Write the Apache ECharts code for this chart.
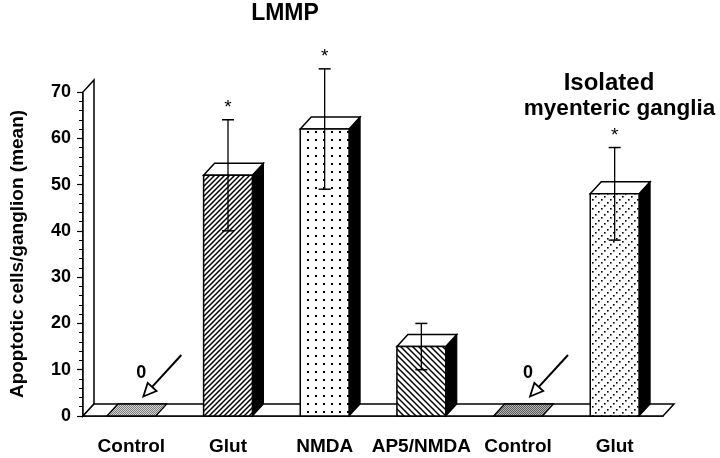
<!DOCTYPE html>
<html><head><meta charset="utf-8">
<script src="https://cdn.jsdelivr.net/npm/echarts@6/dist/echarts.min.js"></script>
<style>html,body{margin:0;padding:0;background:#fff}#c{width:720px;height:458px}</style>
</head><body><div id="c"></div>
<script>
const categories = ['Control', 'Glut', 'NMDA', 'AP5/NMDA', 'Control', 'Glut'];
const means = [0, 52, 62, 15, 0, 48];
const errors = [0, 12, 13, 5, 0, 10];
const significant = [0, 1, 1, 0, 0, 1];
const yMin = 0, yMax = 70, yStep = 10;
const zeroLabel = '0';
const starLabel = '*';
const titleLeft = 'LMMP';
const titleRight1 = 'Isolated';
const titleRight2 = 'myenteric ganglia';
const yName = 'Apoptotic cells/ganglion (mean)';

const patternKinds = ['grayLight', 'hatchFwd', 'dots', 'hatchBack', 'grayDark', 'dotDiag'];
const FONT = 'Liberation Sans, Arial, Helvetica, sans-serif';
const DX = 11, DY = -12;

function makePattern(kind) {
  const c = document.createElement('canvas');
  let s = 6;
  if (kind === 'hatchFwd') s = 5;
  if (kind === 'dots') s = 8;
  if (kind === 'dotDiag') s = 9;
  if (kind === 'grayLight' || kind === 'grayDark') s = 2;
  c.width = c.height = s;
  const ctx = c.getContext('2d');
  ctx.fillStyle = '#fff';
  ctx.fillRect(0, 0, s, s);
  ctx.fillStyle = '#000';
  ctx.strokeStyle = '#000';
  if (kind === 'hatchFwd' || kind === 'hatchBack') {
    ctx.lineWidth = 1.5;
    ctx.beginPath();
    if (kind === 'hatchFwd') {
      ctx.moveTo(0, s); ctx.lineTo(s, 0);
      ctx.moveTo(-1, 1); ctx.lineTo(1, -1);
      ctx.moveTo(s - 1, s + 1); ctx.lineTo(s + 1, s - 1);
    } else {
      ctx.moveTo(0, 0); ctx.lineTo(s, s);
      ctx.moveTo(s - 1, -1); ctx.lineTo(s + 1, 1);
      ctx.moveTo(-1, s - 1); ctx.lineTo(1, s + 1);
    }
    ctx.stroke();
  } else if (kind === 'dots') {
    ctx.fillRect(3, 3, 2, 2);
  } else if (kind === 'dotDiag') {
    ctx.fillRect(1, 7, 1.6, 1.6);
    ctx.fillRect(4, 4, 1.6, 1.6);
    ctx.fillRect(7, 1, 1.6, 1.6);
  } else if (kind === 'grayLight') {
    ctx.fillStyle = '#d4d4d4'; ctx.fillRect(0, 0, 2, 2);
    ctx.fillStyle = '#7a7a7a'; ctx.fillRect(0, 0, 1, 1); ctx.fillRect(1, 1, 1, 1);
  } else if (kind === 'grayDark') {
    ctx.fillStyle = '#b4b4b4'; ctx.fillRect(0, 0, 2, 2);
    ctx.fillStyle = '#5a5a5a'; ctx.fillRect(0, 0, 1, 1); ctx.fillRect(1, 1, 1, 1);
  }
  return c;
}
const patternCanvases = patternKinds.map(makePattern);

function renderFrame(params, api) {
  const cs = params.coordSys;
  const x0 = cs.x, x1 = cs.x + cs.width, yt = cs.y, yb = cs.y + cs.height;
  return {
    type: 'group',
    children: [
      { type: 'polygon', shape: { points: [[x0, yb], [x0, yt], [x0 + DX, yt + DY], [x0 + DX, yb + DY]] },
        style: { fill: '#fff', stroke: '#000', lineWidth: 1.5 } },
      { type: 'polygon', shape: { points: [[x0, yb], [x0 + DX, yb + DY], [x1 + DX, yb + DY], [x1, yb]] },
        style: { fill: '#fff', stroke: '#000', lineWidth: 1.5 } }
    ]
  };
}

function renderBar(params, api) {
  const i = api.value(0), v = api.value(1), e = api.value(2), sig = api.value(3);
  const base = api.coord([i, 0]);
  const top = api.coord([i, v]);
  const bw = api.size([1, 0])[0] * 0.505;
  const hw = bw / 2;
  const cx = base[0];
  const xl = cx - hw, xr = cx + hw, yb = base[1], yt = top[1];
  const fill = { image: patternCanvases[i], repeat: 'repeat' };
  const children = [];
  if (v === 0) {
    children.push({ type: 'polygon',
      shape: { points: [[xl, yb], [xl + DX, yb + DY], [xr + DX, yb + DY], [xr, yb]] },
      style: { fill: fill, stroke: '#000', lineWidth: 1.3 } });
    const sx = cx + 50, sy = yb - 61, ex = cx + 12, ey = yb - 19.5;
    const L = Math.hypot(ex - sx, ey - sy);
    const ux = (ex - sx) / L, uy = (ey - sy) / L;
    const px = -uy, py = ux;
    const hl = 13, hwid = 6;
    const bx = ex - ux * hl, by = ey - uy * hl;
    children.push({ type: 'line', shape: { x1: sx, y1: sy, x2: bx, y2: by },
      style: { stroke: '#000', lineWidth: 2 } });
    children.push({ type: 'polygon',
      shape: { points: [[ex, ey], [bx + px * hwid, by + py * hwid], [bx - px * hwid, by - py * hwid]] },
      style: { fill: '#fff', stroke: '#000', lineWidth: 1.8 } });
    children.push({ type: 'text', x: cx + 10, y: yb - 43,
      style: { text: zeroLabel, font: 'bold 18px ' + FONT, fill: '#000', align: 'center', verticalAlign: 'middle' } });
  } else {
    children.push({ type: 'polygon',
      shape: { points: [[xr, yt], [xr + DX, yt + DY], [xr + DX, yb + DY], [xr, yb]] },
      style: { fill: '#000', stroke: '#000', lineWidth: 1.2 } });
    children.push({ type: 'polygon',
      shape: { points: [[xl, yt], [xl + DX, yt + DY], [xr + DX, yt + DY], [xr, yt]] },
      style: { fill: '#fff', stroke: '#000', lineWidth: 1.5 } });
    children.push({ type: 'rect', shape: { x: xl, y: yt, width: bw, height: yb - yt },
      style: { fill: fill, stroke: '#000', lineWidth: 1.5 } });
    const eTop = api.coord([i, v + e])[1];
    const eBot = api.coord([i, v - e])[1];
    const cap = 6;
    children.push({ type: 'line', shape: { x1: cx, y1: eTop, x2: cx, y2: eBot }, style: { stroke: '#000', lineWidth: 1.3 } });
    children.push({ type: 'line', shape: { x1: cx - cap, y1: eTop, x2: cx + cap, y2: eTop }, style: { stroke: '#000', lineWidth: 1.5 } });
    children.push({ type: 'line', shape: { x1: cx - cap, y1: eBot, x2: cx + cap, y2: eBot }, style: { stroke: '#000', lineWidth: 1.5 } });
    if (sig) {
      children.push({ type: 'text', x: cx, y: eTop - 12,
        style: { text: starLabel, font: '19px ' + FONT, fill: '#000', align: 'center', verticalAlign: 'middle' } });
    }
  }
  return { type: 'group', children: children };
}

const chart = echarts.init(document.getElementById('c'), null, { renderer: 'canvas' });
chart.setOption({
  backgroundColor: '#fff',
  animation: false,
  grid: { left: 80, right: 57, top: 92, bottom: 42 },
  xAxis: {
    type: 'category', data: categories, boundaryGap: true,
    axisLine: { lineStyle: { color: '#000', width: 1.5 } },
    axisTick: { length: 8, interval: 0, lineStyle: { color: '#000', width: 1.3 } },
    axisLabel: { interval: 0, color: '#000', fontSize: 19, fontWeight: 'bold', fontFamily: FONT, margin: 21 },
    splitLine: { show: false }
  },
  yAxis: {
    type: 'value', min: yMin, max: yMax, interval: yStep,
    name: yName, nameLocation: 'middle', nameGap: 56,
    nameTextStyle: { color: '#000', fontSize: 19, fontWeight: 'bold', fontFamily: FONT },
    axisLine: { show: true, lineStyle: { color: '#000', width: 1.5 } },
    axisTick: { show: true, length: 6, lineStyle: { color: '#000', width: 1.2 } },
    minorTick: { show: true, splitNumber: 5, length: 4, lineStyle: { color: '#000', width: 1 } },
    splitLine: { show: false },
    axisLabel: { color: '#000', fontSize: 18, fontWeight: 'bold', fontFamily: FONT, margin: 12 }
  },
  graphic: [
    { type: 'text', x: 285, y: 2, style: { text: titleLeft, font: 'bold 23px ' + FONT, fill: '#000', align: 'center', verticalAlign: 'top', lineHeight: 24 } },
    { type: 'text', x: 609, y: 71, style: { text: titleRight1, font: 'bold 24px ' + FONT, fill: '#000', align: 'center', verticalAlign: 'top', lineHeight: 24 } },
    { type: 'text', x: 619.5, y: 97, style: { text: titleRight2, font: 'bold 22.5px ' + FONT, fill: '#000', align: 'center', verticalAlign: 'top', lineHeight: 24 } }
  ],
  series: [
    { type: 'custom', renderItem: renderFrame, data: [[0, 0]], clip: false, z: 1, silent: true, encode: { x: 0, y: 1 } },
    { type: 'custom', renderItem: renderBar, clip: false, z: 3, silent: true, encode: { x: 0, y: 1 },
      data: categories.map((c, i) => [i, means[i], errors[i], significant[i]]) }
  ]
});
</script>
</body></html>
